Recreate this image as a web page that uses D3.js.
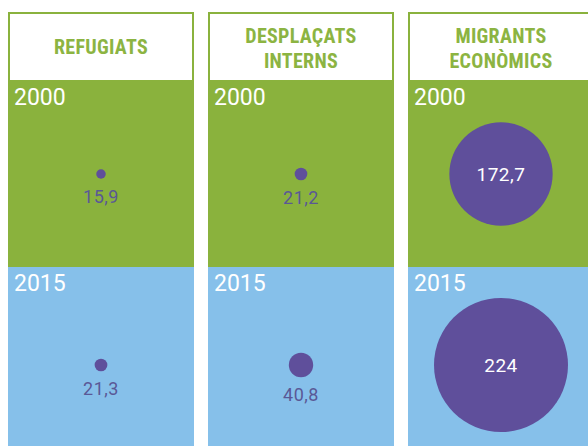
<!DOCTYPE html>
<html>
<head>
<meta charset="utf-8">
<script src="https://cdn.jsdelivr.net/npm/d3@7"></script>
<style>
  html, body { margin: 0; padding: 0; background: #fff; overflow: hidden; }
  svg { display: block; }
  .head { font-family: "Roboto Condensed", "Liberation Sans Narrow", Roboto, sans-serif; font-weight: 700; fill: #8cb442; }
  .year { font-family: Roboto, "DejaVu Sans", sans-serif; fill: #fff; }
  .val { font-family: Roboto, "DejaVu Sans", sans-serif; }
</style>
</head>
<body>
<svg id="chart"></svg>
<script>
const W = 588, H = 446;

// data
const categories = ["REFUGIATS", "DESPLAÇATS INTERNS", "MIGRANTS ECONÒMICS"];
const headerLines = [["REFUGIATS"], ["DESPLAÇATS", "INTERNS"], ["MIGRANTS", "ECONÒMICS"]];
const years = ["2000", "2015"];
const values2000 = [15.9, 21.2, 172.7];
const values2015 = [21.3, 40.8, 224];

const GREEN = "#8ab23d";
const BLUE = "#86c0ea";
const PURPLE = "#5f4f9b";
const LABEL = "#5a5896";
const rowColor = { "2000": GREEN, "2015": BLUE };

const locale = d3.formatLocale({ decimal: ",", thousands: ".", grouping: [3], currency: ["", "€"] });
const fmt = locale.format("~g");

const svg = d3.select("#chart").attr("width", W).attr("height", H);

const x = d3.scaleBand().domain(categories).range([8, 594]).paddingInner(0.07).paddingOuter(0);
const y = d3.scaleBand().domain(years).range([81, 453]);
const r = d3.scaleLinear().domain([0, 224]).range([0, 67]);

const HEAD_TOP = 12;

const cells = [];
categories.forEach((c, i) => {
  cells.push({ cat: c, year: "2000", v: values2000[i] });
  cells.push({ cat: c, year: "2015", v: values2015[i] });
});

// header boxes
const head = svg.append("g").selectAll("g")
  .data(categories)
  .join("g")
  .attr("transform", d => `translate(${x(d)},0)`);

head.append("rect")
  .attr("x", 1).attr("y", HEAD_TOP + 1)
  .attr("width", x.bandwidth() - 2)
  .attr("height", y(years[0]) - HEAD_TOP - 1)
  .attr("fill", "#fff")
  .attr("stroke", GREEN)
  .attr("stroke-width", 2);

head.each(function (d, i) {
  const lines = headerLines[i];
  const g = d3.select(this);
  const base = lines.length === 1 ? 54 : 43;
  lines.forEach((t, j) => {
    g.append("text")
      .attr("class", "head")
      .attr("text-anchor", "middle")
      .attr("x", x.bandwidth() / 2)
      .attr("y", base + j * 25)
      .attr("font-size", 20)
      .attr("letter-spacing", 0.3)
      .text(t);
  });
});

// row blocks
const cell = svg.append("g").selectAll("g")
  .data(cells)
  .join("g")
  .attr("transform", d => `translate(${x(d.cat)},${y(d.year)})`);

cell.append("rect")
  .attr("width", x.bandwidth())
  .attr("height", y.bandwidth())
  .attr("fill", d => rowColor[d.year]);

cell.append("text")
  .attr("class", "year")
  .attr("x", 6)
  .attr("y", 23.5)
  .attr("font-size", 23)
  .text(d => d.year);

const cy = d => y.bandwidth() / 2 + (d.year === "2000" ? 0 : 5);

cell.append("circle")
  .attr("cx", x.bandwidth() / 2)
  .attr("cy", cy)
  .attr("r", d => r(d.v))
  .attr("fill", PURPLE);

cell.append("text")
  .attr("class", "val")
  .attr("text-anchor", "middle")
  .attr("x", x.bandwidth() / 2)
  .attr("y", d => r(d.v) > 30 ? cy(d) + 7 : cy(d) + r(d.v) + 24)
  .attr("font-size", d => r(d.v) > 30 ? 19 : 18)
  .attr("letter-spacing", 0.5)
  .attr("fill", d => r(d.v) > 30 ? "#fff" : LABEL)
  .text(d => fmt(d.v));
</script>
</body>
</html>
